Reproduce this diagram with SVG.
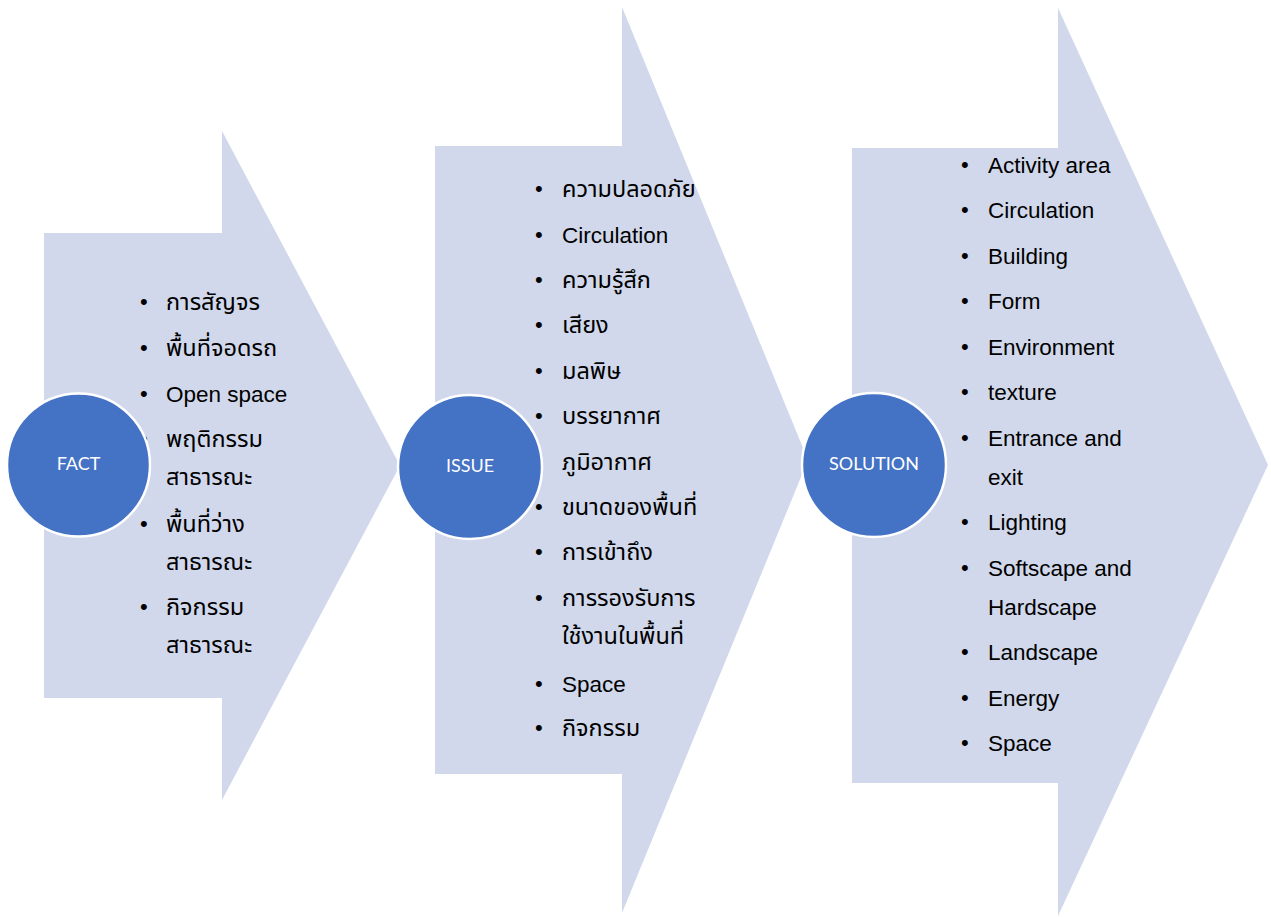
<svg xmlns="http://www.w3.org/2000/svg" width="1271" height="917" viewBox="0 0 1271 917">
<style>
.arrow{fill:#D1D8EB;}
.circ{fill:#4472C4;stroke:#FFFFFF;stroke-width:2.5;}
.ctext{font-family:Lato,"Liberation Sans",sans-serif;font-size:18px;fill:#FFFFFF;text-anchor:middle;}
.item{font-family:"Liberation Sans","Noto Sans Thai","Noto Sans",Tahoma,sans-serif;font-size:22.5px;fill:#000000;}
.th{font-size:23.5px;}
.bul{font-family:"Liberation Sans",sans-serif;font-size:22px;fill:#000000;}
</style>
<rect width="1271" height="917" fill="#FFFFFF"/>
<g id="connectors"></g>
<g id="arrow-fact">
<polygon class="arrow" points="44,233 222,233 222,131 400,465.5 222,800 222,698 44,698"/>
</g>
<g id="arrow-issue">
<polygon class="arrow" points="435,146 622,146 622,7 808,460 622,913 622,774 435,774"/>
</g>
<g id="arrow-solution">
<polygon class="arrow" points="852,148 1058,148 1058,8 1268,465 1058,916 1058,783 852,783"/>
</g>
<g id="fact-list">
<text class="bul" x="140" y="309">•</text><text class="item th" x="166" y="310">การสัญจร</text>
<text class="bul" x="140" y="355">•</text><text class="item th" x="166" y="356">พื้นที่จอดรถ</text>
<text class="bul" x="140" y="401">•</text><text class="item" x="166" y="402">Open space</text>
<text class="bul" x="140" y="446">•</text><text class="item th" x="166" y="447">พฤติกรรม</text>
<text class="item th" x="166" y="485">สาธารณะ</text>
<text class="bul" x="140" y="531">•</text><text class="item th" x="166" y="532">พื้นที่ว่าง</text>
<text class="item th" x="166" y="570">สาธารณะ</text>
<text class="bul" x="140" y="614">•</text><text class="item th" x="166" y="615">กิจกรรม</text>
<text class="item th" x="166" y="653">สาธารณะ</text>
</g>
<g id="issue-list">
<text class="bul" x="535" y="196">•</text><text class="item th" x="562" y="197">ความปลอดภัย</text>
<text class="bul" x="535" y="242">•</text><text class="item" x="562" y="243">Circulation</text>
<text class="bul" x="535" y="287">•</text><text class="item th" x="562" y="288">ความรู้สึก</text>
<text class="bul" x="535" y="332">•</text><text class="item th" x="562" y="333">เสียง</text>
<text class="bul" x="535" y="378">•</text><text class="item th" x="562" y="379">มลพิษ</text>
<text class="bul" x="535" y="423">•</text><text class="item th" x="562" y="424">บรรยากาศ</text>
<text class="bul" x="535" y="469">•</text><text class="item th" x="562" y="470">ภูมิอากาศ</text>
<text class="bul" x="535" y="514">•</text><text class="item th" x="562" y="515">ขนาดของพื้นที่</text>
<text class="bul" x="535" y="559">•</text><text class="item th" x="562" y="560">การเข้าถึง</text>
<text class="bul" x="535" y="605">•</text><text class="item th" x="562" y="606">การรองรับการ</text>
<text class="item th" x="562" y="644">ใช้งานในพื้นที่</text>
<text class="bul" x="535" y="691">•</text><text class="item" x="562" y="692">Space</text>
<text class="bul" x="535" y="735">•</text><text class="item th" x="562" y="736">กิจกรรม</text>
</g>
<g id="solution-list">
<text class="bul" x="961" y="172">•</text><text class="item" x="988" y="173">Activity area</text>
<text class="bul" x="961" y="217">•</text><text class="item" x="988" y="218">Circulation</text>
<text class="bul" x="961" y="263">•</text><text class="item" x="988" y="264">Building</text>
<text class="bul" x="961" y="308">•</text><text class="item" x="988" y="309">Form</text>
<text class="bul" x="961" y="354">•</text><text class="item" x="988" y="355">Environment</text>
<text class="bul" x="961" y="399">•</text><text class="item" x="988" y="400">texture</text>
<text class="bul" x="961" y="445">•</text><text class="item" x="988" y="446">Entrance and</text>
<text class="item" x="988" y="485">exit</text>
<text class="bul" x="961" y="529">•</text><text class="item" x="988" y="530">Lighting</text>
<text class="bul" x="961" y="575">•</text><text class="item" x="988" y="576">Softscape and</text>
<text class="item" x="988" y="615">Hardscape</text>
<text class="bul" x="961" y="659">•</text><text class="item" x="988" y="660">Landscape</text>
<text class="bul" x="961" y="705">•</text><text class="item" x="988" y="706">Energy</text>
<text class="bul" x="961" y="750">•</text><text class="item" x="988" y="751">Space</text>
</g>
<g id="node-fact">
<circle class="circ" cx="78.5" cy="465" r="71.5"/>
<text class="ctext" x="78.5" y="470">FACT</text>
</g>
<g id="node-issue">
<circle class="circ" cx="470" cy="467" r="72"/>
<text class="ctext" x="470" y="472">ISSUE</text>
</g>
<g id="node-solution">
<circle class="circ" cx="874" cy="465" r="72"/>
<text class="ctext" x="874" y="470">SOLUTION</text>
</g>
</svg>
